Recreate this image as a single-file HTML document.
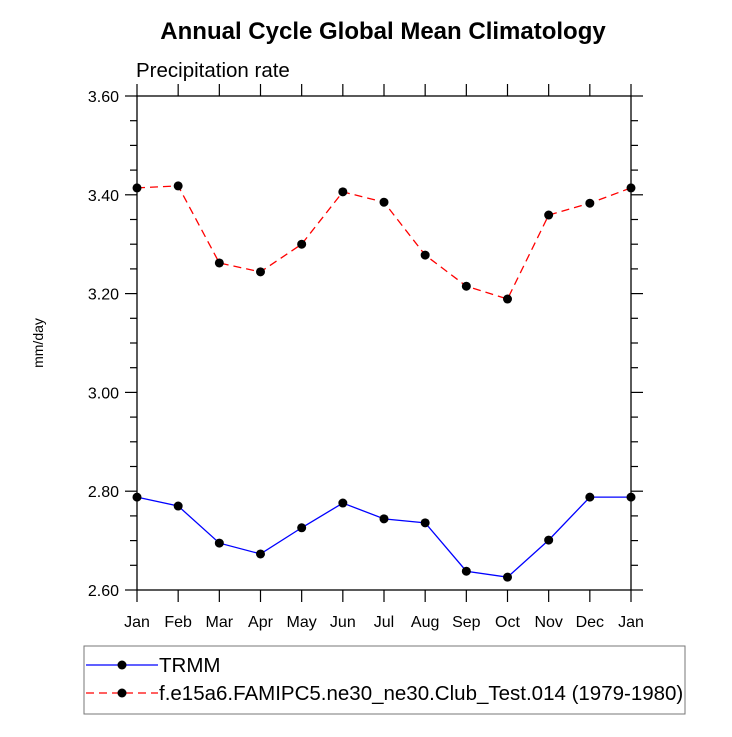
<!DOCTYPE html>
<html><head><meta charset="utf-8"><style>
body{margin:0;background:#fff}
svg text{font-family:"Liberation Sans",sans-serif}
</style></head><body>
<svg id="chart" width="732" height="732" xmlns="http://www.w3.org/2000/svg">
<text x="383" y="39" text-anchor="middle" font-size="24" font-weight="bold">Annual Cycle Global Mean Climatology</text>
<text x="136" y="77" font-size="20.5">Precipitation rate</text>
<text transform="translate(43,343) rotate(-90)" text-anchor="middle" font-size="14">mm/day</text>
<g id="axes"></g>
<g id="series"></g>
<g>
<rect x="84" y="646" width="601" height="68" fill="none" stroke="#777" stroke-width="1"/>
<line x1="86" y1="665" x2="158" y2="665" stroke="#0000ff" stroke-width="1.3"/>
<circle cx="122" cy="665" r="4.5" fill="#000"/>
<text x="159" y="672" font-size="20.5">TRMM</text>
<line x1="86" y1="693" x2="158" y2="693" stroke="#ff0000" stroke-width="1.3" stroke-dasharray="8,5"/>
<circle cx="122" cy="693" r="4.5" fill="#000"/>
<text x="159" y="700" font-size="20.5">f.e15a6.FAMIPC5.ne30_ne30.Club_Test.014 (1979-1980)</text>
</g>
</svg>
<script>
const months = ["Jan","Feb","Mar","Apr","May","Jun","Jul","Aug","Sep","Oct","Nov","Dec","Jan"];
const trmmValues = [2.788,2.770,2.695,2.673,2.726,2.776,2.744,2.736,2.638,2.626,2.701,2.788,2.788];
const modelValues = [3.414,3.418,3.262,3.244,3.300,3.406,3.385,3.278,3.215,3.189,3.359,3.383,3.414];
const yTicks = ["2.60","2.80","3.00","3.20","3.40","3.60"];
const L=137,R=631,T=96,B=590,yMin=2.6,yMax=3.6;
const NS="http://www.w3.org/2000/svg";
const xS=i=>L+(R-L)*i/(months.length-1);
const yS=v=>B-(v-yMin)/(yMax-yMin)*(B-T);
function mk(tag,attrs,parent){const e=document.createElementNS(NS,tag);for(const k in attrs)e.setAttribute(k,attrs[k]);parent.appendChild(e);return e;}
const ax=document.getElementById('axes');
const frame=mk('rect',{x:L,y:T,width:R-L,height:B-T,fill:'none',stroke:'#000','stroke-width':1.3},ax);


months.forEach((m,i)=>{
 const x=xS(i);
 mk('line',{x1:x,y1:B,x2:x,y2:B+12,stroke:'#000','stroke-width':1.2},ax);
 mk('line',{x1:x,y1:T,x2:x,y2:T-12,stroke:'#000','stroke-width':1.2},ax);
 const t=mk('text',{x:x,y:B+37,'text-anchor':'middle','font-size':16},ax);
 t.textContent=m;
 
 
});
for(let k=0;k<=20;k++){
 const v=yMin+k*0.05,y=yS(v),len=(k%4==0)?12:7;
 mk('line',{x1:L,y1:y,x2:L-len,y2:y,stroke:'#000','stroke-width':1.2},ax);
 mk('line',{x1:R,y1:y,x2:R+len,y2:y,stroke:'#000','stroke-width':1.2},ax);
}
yTicks.forEach(s=>{
 const t=mk('text',{x:L-18,y:yS(parseFloat(s))+6,'text-anchor':'end','font-size':16},ax);
 t.textContent=s;
 
 
});
const sg=document.getElementById('series');
function draw(vals,color,dash,name){
 const pts=vals.map((v,i)=>xS(i)+','+yS(v)).join(' ');
 const pl=mk('polyline',{points:pts,fill:'none',stroke:color,'stroke-width':1.3},sg);
 if(dash)pl.setAttribute('stroke-dasharray',dash);
 
 
 vals.forEach((v,i)=>{
  const c=mk('circle',{cx:xS(i),cy:yS(v),r:4.5,fill:'#000'},sg);
  
  
 });
}
draw(trmmValues,'#0000ff',null,'trmm');
draw(modelValues,'#ff0000','8,5','model');
</script>
</body></html>
